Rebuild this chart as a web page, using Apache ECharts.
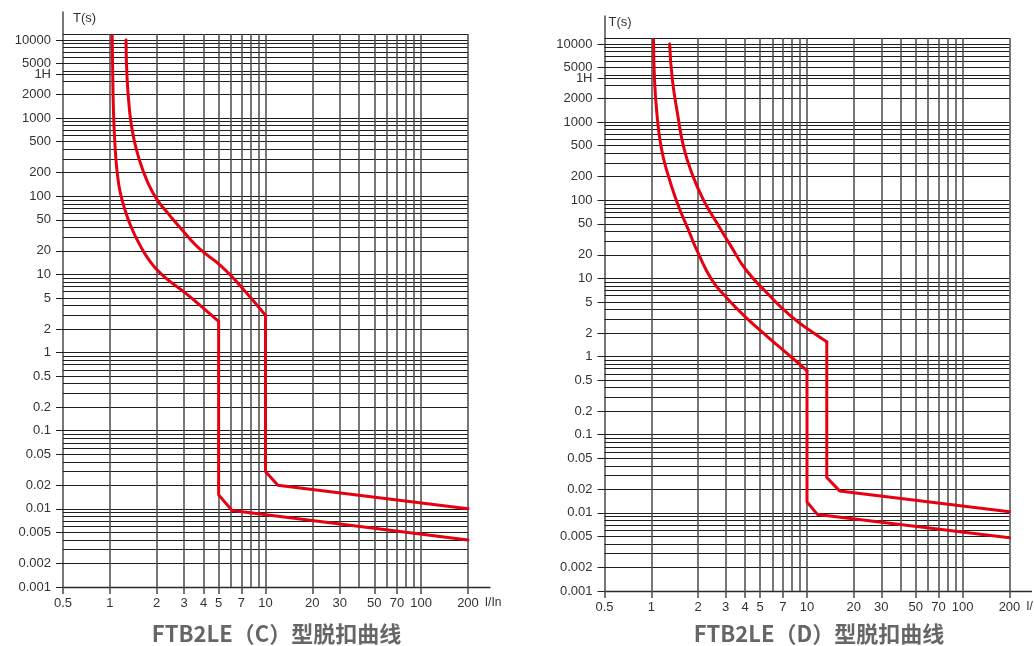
<!DOCTYPE html>
<html><head><meta charset="utf-8">
<script src="https://cdn.jsdelivr.net/npm/echarts@6/dist/echarts.min.js"></script>
<style>html,body{margin:0;padding:0;background:#fff}#c{width:1034px;height:646px}</style>
</head><body><div id="c"></div>
<script>
// ---- axis ticks / labels ----
const xTickLabels = [0.5, 1, 2, 3, 4, 5, 7, 10, 20, 30, 50, 70, 100, 200];
const yTickLabels = [10000, 5000, 3600, 2000, 1000, 500, 200, 100, 50, 20, 10, 5, 2, 1, 0.5, 0.2, 0.1, 0.05, 0.02, 0.01, 0.005, 0.002, 0.001];
// ---- paper grid lines ----
const xGridLines = [1, 2, 3, 4, 5, 6, 7, 8, 9, 10, 20, 30, 40, 50, 60, 70, 80, 90, 100, 200];
const yGridLines = [0.002, 0.003, 0.004, 0.005, 0.006, 0.007, 0.008, 0.009,
  0.01, 0.02, 0.03, 0.04, 0.05, 0.06, 0.07, 0.08, 0.09,
  0.1, 0.2, 0.3, 0.4, 0.5, 0.6, 0.7, 0.8, 0.9,
  1, 2, 3, 4, 5, 6, 7, 8, 9,
  10, 20, 30, 40, 50, 60, 70, 80, 90,
  100, 200, 300, 400, 500, 600, 700, 800, 900,
  1000, 2000, 3000, 3600, 4000, 5000, 6000, 7000, 8000, 9000, 10000, 11900];
const xFrame = [0.5, 200];
const yFrame = [0.001, 11900];

// ---- C type (left chart) ----
const cLowCurveX = [1.035, 1.048, 1.065, 1.093, 1.121, 1.166, 1.245, 1.36, 1.528, 1.773, 2.15, 3.05, 3.95, 5];
const cLowCurveY = [11300, 2100, 745, 304, 184, 112, 69, 42, 25.7, 15.6, 10, 5.8, 3.75, 2.5];
const cLowStepX = [5, 5, 6.1, 200];
const cLowStepY = [2.5, 0.0151, 0.0095, 0.004];
const cHighCurveX = [1.27, 1.29, 1.34, 1.41, 1.54, 1.75, 2, 2.43, 3, 3.78, 5.19, 6.9, 10];
const cHighCurveY = [10000, 3300, 1220, 611, 301, 151, 92, 56.6, 34.6, 21.2, 12.8, 7.1, 3];
const cHighStepX = [10, 10, 12, 200];
const cHighStepY = [3, 0.03, 0.02, 0.01];

// ---- D type (right chart) ----
const dLowCurveX = [1.033, 1.048, 1.085, 1.154, 1.27, 1.47, 1.73, 2, 2.45, 3, 4, 5.56, 7.95, 10];
const dLowCurveY = [11300, 3490, 1306, 487, 222, 91.8, 41.8, 21, 9.55, 5.85, 3.24, 1.8, 0.98, 0.66];
const dLowStepX = [10, 10, 11.7, 200];
const dLowStepY = [0.66, 0.0138, 0.0095, 0.0048];
const dHighCurveX = [1.31, 1.365, 1.47, 1.61, 1.82, 2.16, 2.64, 3.26, 4.05, 5.56, 7.95, 11.1, 13.4];
const dHighCurveY = [10000, 3490, 1306, 487, 222, 101, 51, 25.5, 12.9, 6.46, 3.24, 1.99, 1.55];
const dHighStepX = [13.4, 13.4, 16.2, 200];
const dHighStepY = [1.55, 0.0284, 0.0191, 0.0103];

const titles = ['FTB2LE（C）型脱扣曲线', 'FTB2LE（D）型脱扣曲线'];

// ---- styling / layout ----
const RED = '#e60012';
const FONT = 'Liberation Sans, Arial, sans-serif';
const gridLayouts = [
  {left: 63, top: 12, width: 427, height: 575},
  {left: 604.5, top: 16, width: 427, height: 575}
];
const titleLefts = [271.5, 814];
const yNamePad = [10, 4];

const zip = (xs, ys) => xs.map((x, i) => [x, ys[i]]);
const fmt = v => Math.abs(v - 3600) < 0.5 ? '1H' : String(+Number(v).toPrecision(6));

function paperSeries(i) {
  const data = [];
  yGridLines.forEach(v => data.push({coords: [[xFrame[0], v], [xFrame[1], v]], lineStyle: {color: '#1e1e1e', width: 1}}));
  xGridLines.forEach(v => data.push({coords: [[v, yFrame[0]], [v, yFrame[1]]], lineStyle: {color: '#4a4a4a', width: 1.5}}));
  return {type: 'lines', coordinateSystem: 'cartesian2d', xAxisIndex: i, yAxisIndex: i, polyline: false,
    silent: true, z: 1, lineStyle: {opacity: 1}, data: data};
}
function curveSeries(i, xs, ys, smooth) {
  return {type: 'line', xAxisIndex: i, yAxisIndex: i, data: zip(xs, ys), smooth: smooth,
    symbol: 'none', showSymbol: false, silent: true, z: 5, clip: false,
    lineStyle: {color: RED, width: 3, cap: 'round', join: 'round'}};
}

const sets = [
  [cLowCurveX, cLowCurveY, cLowStepX, cLowStepY, cHighCurveX, cHighCurveY, cHighStepX, cHighStepY],
  [dLowCurveX, dLowCurveY, dLowStepX, dLowStepY, dHighCurveX, dHighCurveY, dHighStepX, dHighStepY]
];

const series = [];
[0, 1].forEach(i => {
  const s = sets[i];
  series.push(paperSeries(i));
  series.push(curveSeries(i, s[0], s[1], 0.5));
  series.push(curveSeries(i, s[2], s[3], false));
  series.push(curveSeries(i, s[4], s[5], 0.5));
  series.push(curveSeries(i, s[6], s[7], false));
});

const option = {
  animation: false,
  backgroundColor: '#fff',
  title: [0, 1].map(i => ({
    text: titles[i], left: titleLefts[i], top: 618, textAlign: 'center',
    textStyle: {fontSize: 22, fontWeight: 'bold', color: '#666', fontFamily: 'Noto Sans CJK SC'}
  })),
  grid: gridLayouts.map(g => Object.assign({containLabel: false, outerBoundsMode: 'none'}, g)),
  xAxis: [0, 1].map(i => ({
    type: 'log', logBase: 10, gridIndex: i, min: 0.5, max: 277,
    axisLine: {show: true, onZero: false, lineStyle: {color: '#2a2a2a', width: 1.3}},
    axisTick: {show: true, customValues: xTickLabels, length: 7, inside: false, lineStyle: {color: '#4a4a4a', width: 1.5}},
    axisLabel: {show: true, customValues: xTickLabels, margin: 10, color: '#333', fontSize: 13, fontFamily: FONT, formatter: fmt},
    splitLine: {show: false}, minorTick: {show: false}, minorSplitLine: {show: false},
    name: 'I/In', nameLocation: 'end', nameGap: -17,
    nameTextStyle: {color: '#333', fontSize: 12, fontFamily: FONT, align: 'left', verticalAlign: 'top', padding: [10, 0, 0, 0]}
  })),
  yAxis: [0, 1].map(i => ({
    type: 'log', logBase: 10, gridIndex: i, min: 0.001, max: 22800,
    axisLine: {show: true, onZero: false, lineStyle: {color: '#4a4a4a', width: 1.5}},
    axisTick: {show: true, customValues: yTickLabels, length: 7, inside: false, lineStyle: {color: '#1e1e1e', width: 1}},
    axisLabel: {show: true, customValues: yTickLabels, margin: 12, color: '#333', fontSize: 13, fontFamily: FONT, formatter: fmt},
    splitLine: {show: false}, minorTick: {show: false}, minorSplitLine: {show: false},
    name: 'T(s)', nameLocation: 'end', nameGap: -6,
    nameTextStyle: {color: '#333', fontSize: 13, fontFamily: FONT, align: 'left', verticalAlign: 'middle', padding: [0, 0, 0, yNamePad[i]]}
  })),
  series: series
};

const chart = echarts.init(document.getElementById('c'), null, {renderer: 'canvas'});
chart.setOption(option);
</script></body></html>
